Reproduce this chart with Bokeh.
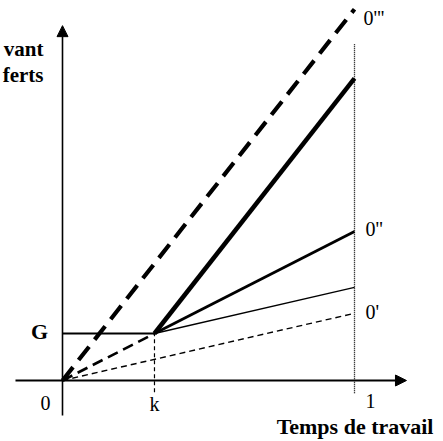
from bokeh.plotting import figure
from bokeh.models import Arrow, NormalHead, Range1d
from bokeh.embed import file_html
from bokeh.resources import INLINE
from bokeh.core.properties import value

# ---- data (x: share of working time, y: income in units of G) ----
k = 0.315
G = 1.0
x_end = 1.0
# income at full working time (x = 1) for each schedule
y_dashed_thick = 7.9   # 0''' : from origin, steepest
y_solid_thick = 6.43   # from (k, G)
y_solid_mid = 3.17     # 0'' : from (k, G)
y_solid_thin = 1.98    # from (k, G)
y_dashed_thin = 1.43   # 0' : from origin

line_labels = ["0'''", "0''", "0'"]
line_label_y = [7.72, 3.23, 1.45]
tick_labels = ["0", "k", "1"]
tick_x = [-0.058, k, 1.055]

W, H = 443, 441
px_x = 292.0   # pixels per x unit
px_y = 47.0    # pixels per y unit
ox, oy = 62.0, 61.0  # origin position within frame (from left, from bottom)

p = figure(width=W, height=H, output_backend="svg", toolbar_location=None,
           x_axis_type=None, y_axis_type=None,
           x_range=Range1d(-ox / px_x, (W - ox) / px_x),
           y_range=Range1d(-oy / px_y, (H - oy) / px_y),
           min_border=0, min_border_left=0, min_border_right=0,
           min_border_top=0, min_border_bottom=0)
p.outline_line_color = None
p.grid.visible = False
p.background_fill_color = "white"
p.border_fill_color = "white"

black = "black"

# axes with arrow heads
p.add_layout(Arrow(end=NormalHead(size=11, fill_color=black, line_color=black),
                   x_start=-0.161, y_start=0, x_end=1.178, y_end=0,
                   line_width=1.8, line_color=black))
p.add_layout(Arrow(end=NormalHead(size=11, fill_color=black, line_color=black),
                   x_start=0, y_start=-0.745, x_end=0, y_end=7.55,
                   line_width=1.6, line_color=black))

# vertical dotted at x = 1
p.line([x_end, x_end], [-0.27, 7.17], line_color=black, line_width=1.3, line_dash="1 1")
# vertical dashed at k
p.line([k, k], [-0.25, G], line_color=black, line_width=1.2, line_dash="4 3")

# horizontal G segment
p.line([0, k], [G, G], line_color=black, line_width=2.2)

# thick dashed from origin
p.line([0, x_end], [0, y_dashed_thick], line_color=black, line_width=4.2, line_dash="17 9")
# medium dashed origin -> (k, G)
p.line([0, k], [0, G], line_color=black, line_width=2.6, line_dash="11 6")
# thin dashed 0'
p.line([0, x_end], [0, y_dashed_thin], line_color=black, line_width=1.4, line_dash="6 4")

# lines from kink (k, G)
p.line([k, x_end], [G, y_solid_thick], line_color=black, line_width=4.5)
p.line([k, x_end], [G, y_solid_mid], line_color=black, line_width=2.8)
p.line([k, x_end], [G, y_solid_thin], line_color=black, line_width=1.3)

serif = value("Liberation Serif")

# line labels
p.text(x=[1.031, 1.038, 1.038], y=line_label_y, text=line_labels,
       text_font=serif, text_font_size="20px", text_align="left",
       text_baseline="middle", text_color=black)

# tick labels
p.text(x=tick_x, y=[-0.47, -0.49, -0.43], text=tick_labels,
       text_font=serif, text_font_size="20px", text_align="center",
       text_baseline="middle", text_color=black)

# G label
p.text(x=[-0.079], y=[1.04], text=["G"], text_font=serif, text_font_size="22px",
       text_font_style="bold", text_align="center", text_baseline="middle",
       text_color=black)

# axis titles (cut-off y title, x title)
p.text(x=[-0.065, -0.065], y=[7.06, 6.49], text=["vant", "ferts"], text_font=serif,
       text_font_size="21px", text_font_style="bold", text_align="right",
       text_baseline="middle", text_color=black)
p.text(x=[1.2705], y=[-0.979], text=["Temps de travail"], text_font=serif,
       text_font_size="22px", text_font_style="bold", text_align="right",
       text_baseline="alphabetic", text_color=black)

open("out.html", "w").write(file_html(p, INLINE))
